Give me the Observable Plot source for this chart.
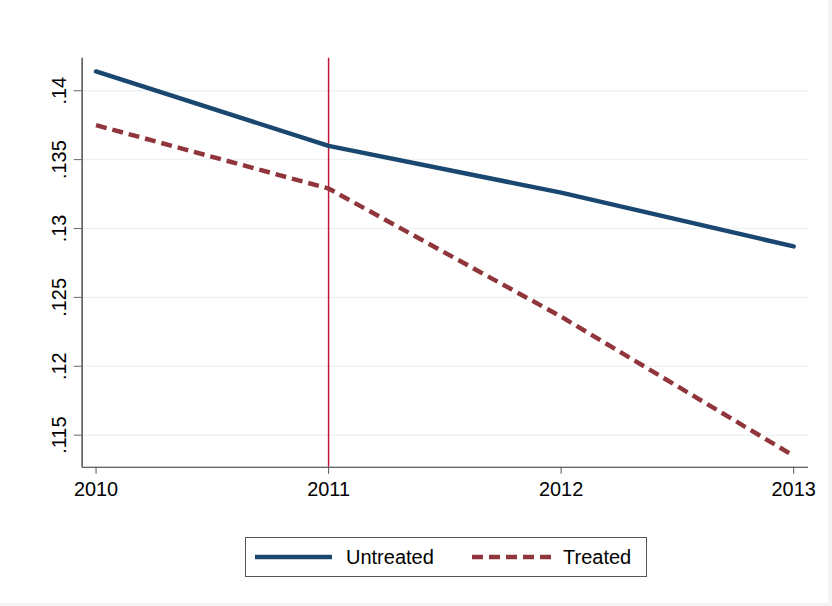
<!DOCTYPE html>
<html>
<head>
<meta charset="utf-8">
<script src="https://cdn.jsdelivr.net/npm/d3@7"></script>
<script src="https://cdn.jsdelivr.net/npm/@observablehq/plot@0.6"></script>
<style>
  html, body { margin: 0; padding: 0; background: #ffffff; }
  #page {
    position: relative; width: 832px; height: 606px; background: #ffffff;
    box-sizing: border-box; border-right: 4px solid #f3f3f3; border-bottom: 3px solid #f3f3f3;
    font-family: "Liberation Sans", Arial, Helvetica, sans-serif;
  }
  #chart { position: absolute; left: 0; top: 0; }
  #legend {
    position: absolute; left: 245px; top: 537px; width: 402px; height: 40px;
    box-sizing: border-box; border: 1.5px solid #555;
  }
</style>
</head>
<body>
<div id="page">
  <div id="chart"></div>
  <div id="legend"></div>
</div>
<script>
// Yearly means for the two groups
const years = [2010, 2011, 2012, 2013];
const untreated = [0.1414, 0.1360, 0.1326, 0.1287];
const treated = [0.1375, 0.1329, 0.1236, 0.1135];
const seriesNames = ["Untreated", "Treated"];
const yTicks = [0.115, 0.12, 0.125, 0.13, 0.135, 0.14];
const treatmentYear = 2011;

const navy = "#1a476f";
const maroon = "#90353b";
const dash = "11,6";

const untreatedRows = years.map((year, i) => ({year, value: untreated[i]}));
const treatedRows = years.map((year, i) => ({year, value: treated[i]}));

// y axis range spans a little past the data, like the plot region margins
const yMin = 0.11267, yMax = 0.14236;
const fmt = d => String(+d.toFixed(3)).replace(/^0\./, ".");

const chart = Plot.plot({
  width: 832,
  height: 520,
  marginLeft: 82,
  marginRight: 20,
  marginTop: 58,
  marginBottom: 51,
  style: {fontFamily: "'Liberation Sans', Arial, Helvetica, sans-serif", fontSize: "20px", color: "#000", background: "transparent"},
  x: {domain: [2010, 2013], range: [96, 797]},
  y: {domain: [yMin, yMax]},
  marks: [
    Plot.gridY(yTicks, {stroke: "#edf2f4", strokeOpacity: 1, strokeWidth: 1.5}),
    Plot.ruleX([treatmentYear], {stroke: "#c0143c", strokeWidth: 1.5}),
    Plot.ruleY([yMin], {stroke: "#333", strokeWidth: 1.2}),
    Plot.ruleX([2010 - 14 * 3 / 701], {stroke: "#222", strokeWidth: 1.2}),
    Plot.axisX({ticks: years, tickFormat: d => String(d), tickSize: 7, tickPadding: 8, fontSize: 20,
      stroke: "#555", fill: "#000", label: null}),
    Plot.axisY({ticks: yTicks, tickFormat: () => "", tickSize: 8, stroke: "#666", label: null}),
    Plot.text(yTicks, {y: d => d, text: fmt, frameAnchor: "left", dx: -16, rotate: -90,
      textAnchor: "middle", lineAnchor: "bottom", fontSize: 20, fill: "#000"}),
    Plot.line(untreatedRows, {x: "year", y: "value", stroke: navy, strokeWidth: 4.5, strokeLinecap: "round"}),
    Plot.line(treatedRows, {x: "year", y: "value", stroke: maroon, strokeWidth: 4.5, strokeDasharray: dash, strokeLinecap: "butt"})
  ]
});
document.getElementById("chart").appendChild(chart);

// Legend box below the plot
const leg = d3.select("#legend").append("svg").attr("width", 399).attr("height", 37)
  .style("display", "block");
const items = [
  {name: seriesNames[0], color: navy, dash: null, x0: 9, x1: 86, tx: 100},
  {name: seriesNames[1], color: maroon, dash: dash, x0: 226, x1: 305, tx: 317}
];
for (const it of items) {
  leg.append("line").attr("x1", it.x0).attr("x2", it.x1).attr("y1", 19).attr("y2", 19)
    .attr("stroke", it.color).attr("stroke-width", 4.5).attr("stroke-dasharray", it.dash);
  leg.append("text").attr("x", it.tx).attr("y", 26).attr("font-size", 20)
    .attr("font-family", "'Liberation Sans', Arial, Helvetica, sans-serif").attr("fill", "#000")
    .text(it.name);
}
</script>
</body>
</html>
